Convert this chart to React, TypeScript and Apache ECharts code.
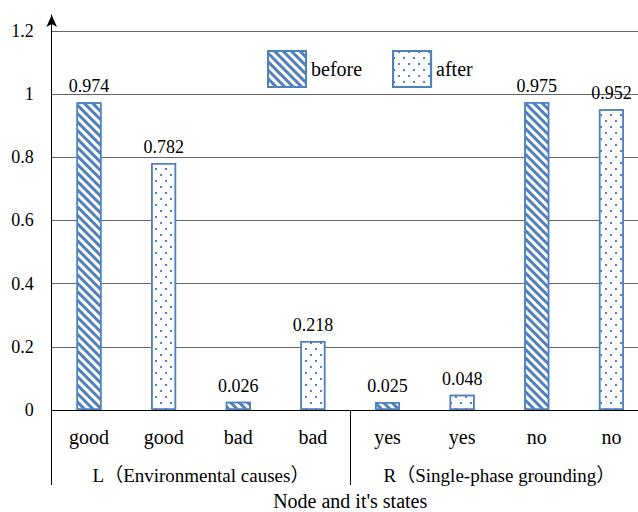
import React, { useEffect, useRef } from "react";
import * as echarts from "echarts";

const categories = ["good", "good", "bad", "bad", "yes", "yes", "no", "no"];
const groups = ["L（Environmental causes）", "R（Single-phase grounding）"];
const beforeValues: (number | string)[] = [0.974, "-", 0.026, "-", 0.025, "-", 0.975, "-"];
const afterValues: (number | string)[] = ["-", 0.782, "-", 0.218, "-", 0.048, "-", 0.952];
const seriesNames = ["before", "after"];
const xTitle = "Node and it's states";

const FONT = "'Liberation Serif', 'Noto Sans CJK SC', serif";
const BLUE = "#4f81bd";

export default function App() {
  const ref = useRef<HTMLDivElement>(null);
  useEffect(() => {
    if (!ref.current) return;
    const chart = echarts.init(ref.current, null, { renderer: "svg" });
    const stripeDecal = {
      symbol: "rect",
      symbolSize: 1,
      color: BLUE,
      dashArrayX: [1, 0],
      dashArrayY: [3, 3],
      rotation: Math.PI / 4,
    };
    const dotDecal = {
      symbol: "rect",
      symbolSize: 1,
      color: BLUE,
      dashArrayX: [[1.5, 7.5], [0, 4.5, 1.5, 3]],
      dashArrayY: [1.5, 3.5],
      rotation: 0,
    };
    const labelStyle = {
      show: true,
      position: "top",
      distance: 7,
      color: "#000",
      fontSize: 18,
      fontFamily: FONT,
    };
    chart.setOption({
      animation: false,
      textStyle: { fontFamily: FONT },
      legend: {
        data: seriesNames,
        left: 262,
        top: 45,
        itemWidth: 38,
        itemHeight: 36,
        itemGap: 30,
        icon: "rect",
        textStyle: { fontSize: 20, color: "#000", fontFamily: FONT },
      },
      grid: {
        left: 51.7,
        top: 15,
        width: 597,
        height: 395,
        containLabel: false,
        outerBoundsMode: "none",
      },
      xAxis: [
        {
          type: "category",
          data: categories,
          position: "bottom",
          axisLine: { show: true, lineStyle: { color: "#000", width: 1 } },
          axisTick: { show: false },
          axisLabel: { fontSize: 20, color: "#000", margin: 17, interval: 0, fontFamily: FONT },
        },
        {
          type: "category",
          data: groups,
          position: "bottom",
          axisLine: { show: false },
          axisTick: {
            show: true,
            length: 75,
            interval: 0,
            alignWithLabel: false,
            lineStyle: { color: "#000", width: 1 },
          },
          axisLabel: {
            fontSize: 19,
            color: "#000",
            margin: 56,
            interval: 0,
            hideOverlap: false,
            fontFamily: FONT,
          },
          name: xTitle,
          nameLocation: "middle",
          nameGap: 81,
          nameTextStyle: { fontSize: 20, lineHeight: 20, color: "#000", fontFamily: FONT },
        },
      ],
      yAxis: {
        type: "value",
        min: 0,
        max: 1.25,
        interval: 0.2,
        axisLine: {
          show: true,
          lineStyle: { color: "#000", width: 1 },
          symbol: ["none", "arrow"],
          symbolSize: [8, 12],
        },
        axisTick: { show: false },
        axisLabel: { fontSize: 18, color: "#000", margin: 18, showMaxLabel: false, fontFamily: FONT },
        splitLine: { show: true, showMaxLine: false, lineStyle: { color: "#666", width: 1 } },
      },
      series: [
        {
          name: seriesNames[0],
          type: "bar",
          xAxisIndex: 0,
          data: beforeValues,
          barWidth: 25,
          barGap: "-100%",
          itemStyle: { color: "#fff", borderColor: BLUE, borderWidth: 1.5, decal: stripeDecal },
          label: labelStyle,
        },
        {
          name: seriesNames[1],
          type: "bar",
          xAxisIndex: 0,
          data: afterValues,
          barWidth: 25,
          barGap: "-100%",
          itemStyle: { color: "#fff", borderColor: BLUE, borderWidth: 1.5, decal: dotDecal },
          label: labelStyle,
        },
      ],
    });
    return () => chart.dispose();
  }, []);
  return (
    <div
      ref={ref}
      style={{ position: "fixed", left: 0, top: 0, width: 638, height: 512, background: "#fff" }}
    />
  );
}
